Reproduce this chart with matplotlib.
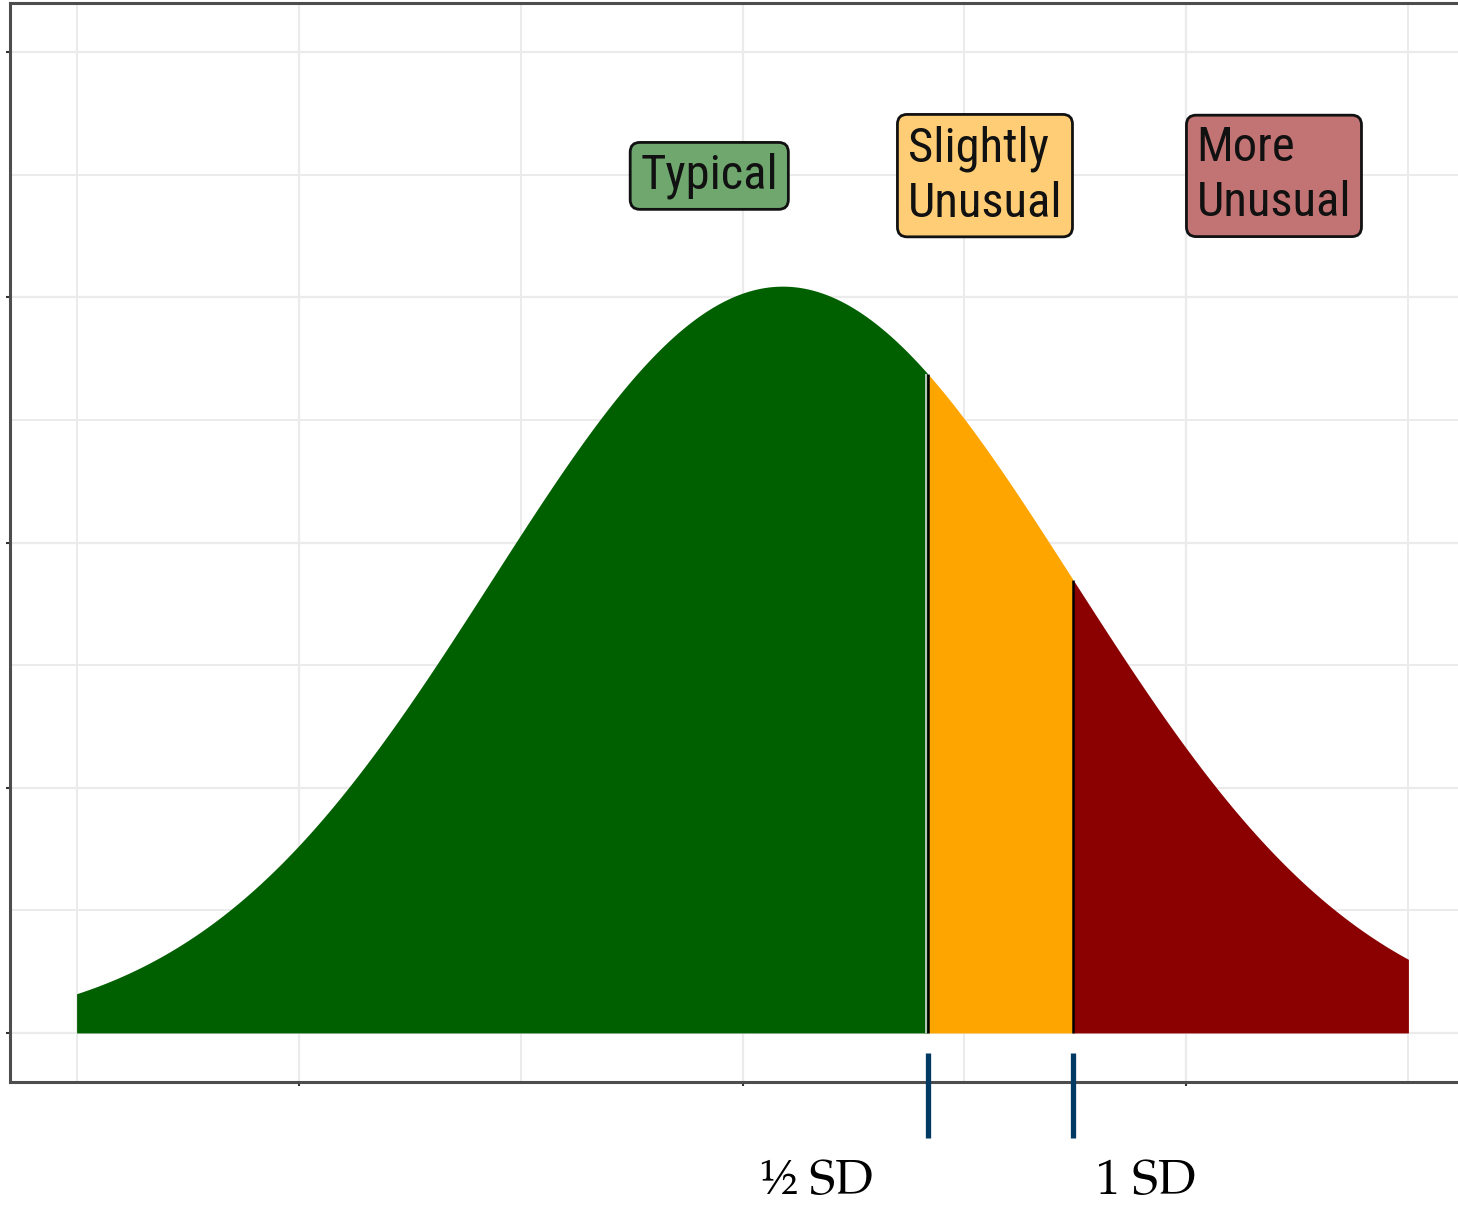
import numpy as np
import matplotlib
matplotlib.use("Agg")
import matplotlib.pyplot as plt
from matplotlib.ticker import MultipleLocator
import matplotlib.transforms as mtransforms

# ---- data ----
mean = 30.9
sd = 6.55
x_range = [15, 45]
breaks = [mean + 0.5 * sd, mean + sd]          # 1/2 SD and 1 SD
region_colors = ["#006000", "#ffa500", "#8b0000"]
label_texts = ["Typical", "Slightly\nUnusual", "More\nUnusual"]
label_x = [27.7, 33.72, 40.23]
label_y = [0.0699, 0.0699, 0.0699]
label_colors = ["#6fa76f", "#ffcd75", "#c27373"]
sd_labels = ["½ SD", "1 SD"]
sd_label_x = [31.67, 39.08]

DPI = 100
W, H = 1458, 1207
fig = plt.figure(figsize=(W / DPI, H / DPI), dpi=DPI)
ax = fig.add_axes([10 / W, (H - 1082) / H, (1475 - 10) / W, (1082 - 3) / H])

ax.set_xlim(13.5, 46.5)
ax.set_ylim(-0.004, 0.084)

# grid
ax.xaxis.set_major_locator(MultipleLocator(10))
ax.xaxis.set_minor_locator(MultipleLocator(5))
ax.yaxis.set_major_locator(MultipleLocator(0.02))
ax.yaxis.set_minor_locator(MultipleLocator(0.01))
ax.grid(which="major", color="#ebebeb", lw=1.6, zorder=0)
ax.grid(which="minor", color="#ebebeb", lw=1.4, zorder=0)
ax.set_axisbelow(True)
ax.tick_params(which="major", direction="out", length=3, width=1.5, color="#333333",
               labelbottom=False, labelleft=False)
ax.tick_params(which="minor", length=0)
for s in ax.spines.values():
    s.set_color("#4d4d4d")
    s.set_linewidth(2.2)

# density
xs = np.linspace(x_range[0], x_range[1], 2000)
pdf = np.exp(-0.5 * ((xs - mean) / sd) ** 2) / (sd * np.sqrt(2 * np.pi))
edges = [x_range[0]] + breaks + [x_range[1]]
for i in range(3):
    m = (xs >= edges[i]) & (xs <= edges[i + 1])
    ax.fill_between(xs[m], 0, pdf[m], color=region_colors[i], lw=0, zorder=2)
for k, b in enumerate(breaks):
    h = np.exp(-0.5 * ((b - mean) / sd) ** 2) / (sd * np.sqrt(2 * np.pi))
    if k == 0:
        off = mtransforms.offset_copy(ax.transData, fig=fig, x=-2.2, y=0, units="dots")
        ax.plot([b, b], [0, h], color="#d8d8d8", lw=1.2, zorder=3,
                solid_capstyle="butt", transform=off)
    ax.plot([b, b], [0, h], color="black", lw=1.8, zorder=3, solid_capstyle="butt")

# labels
for t, lx, ly, c in zip(label_texts, label_x, label_y, label_colors):
    ax.text(lx, ly, t, ha="left", va="center", fontsize=35,
            family=["Roboto Condensed", "Liberation Sans"], color="#111111",
            linespacing=1.25, zorder=5,
            bbox=dict(boxstyle="round,pad=0.21,rounding_size=0.2", fc=c, ec="#111111", lw=2))

# SD markers below axis
for b in breaks:
    ax.plot([b, b], [-0.00163, -0.00857], color="#003a63", lw=3.8, clip_on=False,
            solid_capstyle="butt", zorder=6)
for t, lx in zip(sd_labels, sd_label_x):
    ax.text(lx, -0.01225, t, ha="center", va="center", fontsize=35,
            family=["P052", "TeX Gyre Pagella", "URW Palladio L", "Liberation Serif"],
            color="black", clip_on=False)

fig.savefig("out.png", dpi=DPI)
